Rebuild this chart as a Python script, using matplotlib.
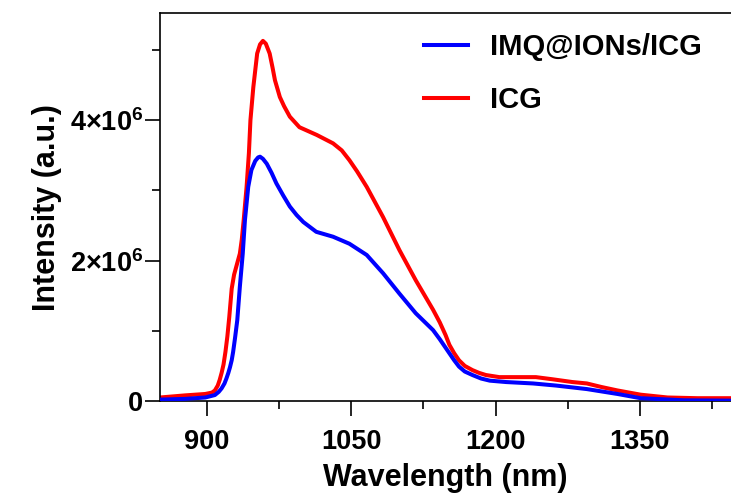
import matplotlib
matplotlib.use("Agg")
import matplotlib.pyplot as plt
from matplotlib.ticker import MultipleLocator, FuncFormatter

# values (nm, intensity in 1e6 a.u.)
icg_nm = [851, 877, 898, 905, 908, 911, 913, 915, 917, 919, 921, 923, 925.5, 928,
          931, 934, 936, 938, 941, 943.4, 945, 948, 952, 955, 958, 961, 965, 968,
          970.5, 975.6, 980, 986, 996, 1014, 1031, 1040, 1048, 1056, 1066, 1083,
          1100, 1117, 1135, 1142, 1148, 1152, 1157, 1162, 1168, 1176, 1183, 1190,
          1204, 1225, 1242, 1259, 1280, 1295, 1310, 1327, 1351, 1379, 1410, 1445]
icg_val = [0.05, 0.08, 0.10, 0.12, 0.15, 0.22, 0.30, 0.40, 0.52, 0.70, 0.92, 1.20,
           1.60, 1.80, 1.95, 2.10, 2.30, 2.58, 3.05, 3.53, 4.00, 4.47, 4.95, 5.08,
           5.13, 5.09, 4.95, 4.75, 4.57, 4.33, 4.20, 4.05, 3.90, 3.79, 3.67, 3.57,
           3.43, 3.27, 3.05, 2.62, 2.15, 1.72, 1.30, 1.12, 0.94, 0.80, 0.68, 0.58,
           0.50, 0.44, 0.40, 0.37, 0.34, 0.34, 0.34, 0.31, 0.27, 0.25, 0.20, 0.15,
           0.09, 0.05, 0.04, 0.04]

imq_nm = [851, 877, 898, 908, 912, 915, 918, 920, 922, 923.7, 925.5, 927, 929,
          931.3, 934, 937, 939.3, 942.7, 946, 950, 953, 955, 958, 962, 967, 972,
          979, 986, 993, 1000, 1013.5, 1031, 1048, 1066, 1083, 1100, 1117, 1135,
          1142, 1148, 1152, 1157, 1162, 1168, 1176, 1185, 1194, 1211, 1239, 1263,
          1295, 1327, 1351, 1396, 1445]
imq_val = [0.02, 0.03, 0.05, 0.085, 0.13, 0.18, 0.25, 0.32, 0.40, 0.48, 0.58, 0.70,
           0.90, 1.15, 1.63, 2.10, 2.58, 3.05, 3.29, 3.42, 3.47, 3.48, 3.45, 3.38,
           3.25, 3.10, 2.93, 2.77, 2.65, 2.55, 2.41, 2.34, 2.24, 2.08, 1.82, 1.53,
           1.25, 1.01, 0.88, 0.76, 0.68, 0.58, 0.49, 0.42, 0.37, 0.32, 0.29, 0.27,
           0.25, 0.22, 0.17, 0.10, 0.04, 0.01, 0.005]

plt.rcParams["font.family"] = ["Liberation Sans", "DejaVu Sans"]
plt.rcParams["font.weight"] = "bold"
plt.rcParams["mathtext.fontset"] = "custom"
plt.rcParams["mathtext.rm"] = "Liberation Sans:bold"
plt.rcParams["mathtext.bf"] = "Liberation Sans:bold"
plt.rcParams["mathtext.default"] = "rm"

fig = plt.figure(figsize=(7.31, 5.0), dpi=100)
ax = fig.add_axes([0.219, 0.198, 0.781, 0.775])

ax.plot(imq_nm, [v * 1e6 for v in imq_val], color="#0000ff", lw=2.9,
        label="IMQ@IONs/ICG", zorder=3)
ax.plot(icg_nm, [v * 1e6 for v in icg_val], color="#ff0000", lw=2.9,
        label="ICG", zorder=2)

ax.set_xlim(851, 1445)
ax.set_ylim(0, 5.52e6)

ax.xaxis.set_major_locator(MultipleLocator(150))
ax.xaxis.set_minor_locator(MultipleLocator(75))
ax.yaxis.set_major_locator(MultipleLocator(2e6))
ax.yaxis.set_minor_locator(MultipleLocator(1e6))


def sci(v, pos):
    if v == 0:
        return "0"
    return r"$%d{\times}10^{6}$" % round(v / 1e6)


ax.yaxis.set_major_formatter(FuncFormatter(sci))

ax.tick_params(which="major", length=11, width=1.2, labelsize=19.5)
ax.tick_params(which="minor", length=6, width=1.2)
ax.tick_params(axis="x", pad=9)
ax.tick_params(axis="y", pad=1)
for lab in ax.get_xticklabels() + ax.get_yticklabels():
    lab.set_fontweight("bold")

ax.spines["right"].set_visible(False)
for s in ("left", "bottom", "top"):
    ax.spines[s].set_linewidth(1.2)

ax.set_xlabel("Wavelength (nm)", fontsize=22, fontweight="bold", labelpad=6)
ax.set_ylabel("Intensity (a.u.)", fontsize=22, fontweight="bold", labelpad=6)

fig.legend(loc="upper left", bbox_to_anchor=(424 / 731, 1 - 33 / 500),
           frameon=False, handlelength=1.5, handletextpad=0.75,
           labelspacing=0.85, borderpad=0, borderaxespad=0,
           prop={"weight": "bold", "size": 21})

fig.savefig("out.png", dpi=100)
